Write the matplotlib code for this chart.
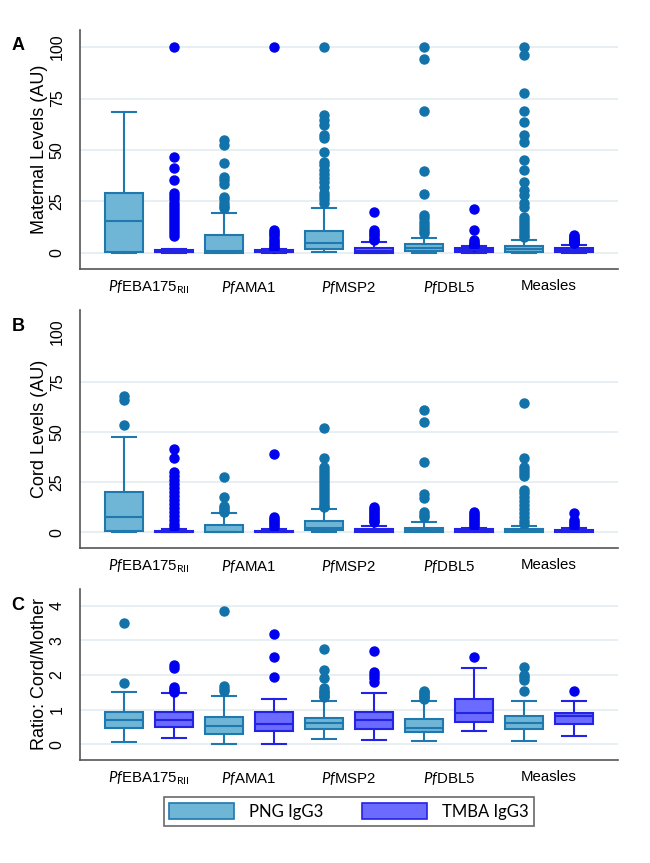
import matplotlib
matplotlib.use("Agg")
import matplotlib.pyplot as plt
from matplotlib.patches import Patch

plt.rcParams['font.family'] = ['Liberation Sans', 'DejaVu Sans']
plt.rcParams['mathtext.fontset'] = 'custom'
plt.rcParams['mathtext.rm'] = 'Lato'
plt.rcParams['mathtext.it'] = 'Lato:italic'
plt.rcParams['mathtext.bf'] = 'Lato:bold'

# ---------------- data ----------------
antigens = [r'$\mathit{Pf}$EBA175$_{\mathrm{RII}}$', r'$\mathit{Pf}$AMA1',
            r'$\mathit{Pf}$MSP2', r'$\mathit{Pf}$DBL5', 'Measles']
series_names = ['PNG IgG3', 'TMBA IgG3']
panel_letters = ['A', 'B', 'C']
panel_ylabels = ['Maternal Levels (AU)', 'Cord Levels (AU)', 'Ratio: Cord/Mother']
panel_yticks = [[0, 25, 50, 75, 100], [0, 25, 50, 75, 100], [0, 1, 2, 3, 4]]

# box stats: [whisker low, Q1, median, Q3, whisker high]
maternal_png_stats = [[0, 0.3, 15.4, 29, 68.6], [0, 0.2, 1.1, 8.7, 19.6],
                      [0.3, 1.8, 5.0, 10.7, 22], [0.2, 1.0, 2.3, 4.2, 7.4],
                      [0.2, 0.7, 1.9, 3.4, 6.3]]
maternal_png_fliers = [[],
                       [55, 52.3, 43.5, 37, 35.5, 33.5, 27.3, 26, 24.5, 23, 22],
                       [100, 67, 64.6, 62, 57.3, 55.7, 49.2, 44.3, 42.5, 40.5, 38.5, 36.5,
                        34.5, 32.2, 29, 27.5, 26, 24.3],
                       [100, 94, 69, 40, 28.6, 18.4, 16.8, 15.2, 13.6, 12, 10.5, 9.5],
                       [99.8, 96.1, 77.8, 69.1, 63.8, 57.3, 54, 45.1, 40.3, 34.3, 30.6, 28.2,
                        24.1, 22.5, 17.6, 16, 14.5, 13, 11.5, 10, 8.5, 7.9]]
maternal_tmba_stats = [[0.1, 0.3, 0.7, 1.2, 1.9], [0.1, 0.3, 0.7, 1.2, 2.1],
                       [0.1, 0.2, 1.0, 2.6, 5.3], [0.2, 0.6, 1.3, 2.3, 3.5],
                       [0.2, 0.6, 1.6, 2.6, 3.9]]
maternal_tmba_fliers = [[100, 46.7, 41.1, 35.4, 29.3, 27.5, 26, 24.5, 23, 21.5, 20, 18.5, 17,
                         15.5, 14, 12.5, 11, 9.5, 8],
                        [100, 11.2, 10, 9, 8, 7, 6, 5, 4, 3, 2.4],
                        [19.8, 11.2, 10, 9, 8, 7, 6.3],
                        [21.5, 11.2, 6.3, 5.5, 4.5, 4, 3.5],
                        [8.7, 8, 7.5, 7, 6.5, 6, 5.5, 5, 4.7]]

cord_png_stats = [[0, 0.5, 7.5, 20.2, 47.3], [0, 0.1, 0.3, 3.9, 9.8],
                  [0.2, 1.0, 2.1, 5.4, 11.5], [0.1, 0.3, 1.3, 2.3, 5.0],
                  [0.1, 0.3, 1.0, 1.8, 3.4]]
cord_png_fliers = [[67.8, 65.7, 53.5],
                   [27.5, 17.6, 13.2, 12.2, 11.2, 10.3],
                   [51.9, 37.2, 32.7, 31, 29.5, 28, 26.5, 25, 23.5, 22, 20.5, 19, 17.5,
                    16, 14.5, 13, 12.4],
                   [61.1, 55.1, 34.8, 19.2, 17.2, 9.9, 8.7, 7.5],
                   [64.4, 37, 32.7, 31, 29.3, 27.8, 21.3, 19.5, 17.5, 15.5, 13.5, 11.5,
                    9.5, 7.5, 5.5, 4.2]]
cord_tmba_stats = [[0, 0.1, 0.4, 0.9, 1.5], [0, 0.1, 0.3, 0.8, 1.5],
                   [0, 0.1, 0.5, 1.5, 3.1], [0.1, 0.3, 0.8, 1.5, 2.1],
                   [0.1, 0.3, 0.8, 1.3, 2.3]]
cord_tmba_fliers = [[41.6, 37.2, 29.8, 28, 26, 24, 22, 20, 18, 16, 14, 12, 10, 8, 6, 4, 2.5],
                    [39.2, 7.5, 6.5, 5.5, 4.5, 3.5, 2.5],
                    [12.4, 11.5, 10.5, 9.5, 8.5, 7.5, 6.5, 5.5, 5.0],
                    [9.9, 9, 8, 7, 6, 5, 4, 3],
                    [9.6, 5.9, 5, 4, 3]]

ratio_png_stats = [[0.05, 0.48, 0.69, 0.92, 1.52], [0, 0.29, 0.52, 0.79, 1.40],
                   [0.14, 0.43, 0.60, 0.77, 1.26], [0.09, 0.34, 0.48, 0.72, 1.26],
                   [0.09, 0.43, 0.60, 0.81, 1.26]]
ratio_png_fliers = [[3.52, 1.78],
                    [3.86, 1.67, 1.6, 1.55],
                    [2.75, 2.14, 1.9, 1.62, 1.55, 1.5, 1.45, 1.4, 1.36],
                    [1.55, 1.5, 1.45, 1.4, 1.35, 1.3],
                    [2.22, 2.0, 1.95, 1.87, 1.54]]
ratio_tmba_stats = [[0.17, 0.50, 0.69, 0.92, 1.49], [0, 0.38, 0.58, 0.94, 1.32],
                    [0.12, 0.45, 0.69, 0.92, 1.49], [0.39, 0.63, 0.89, 1.32, 2.19],
                    [0.24, 0.58, 0.81, 0.89, 1.25]]
ratio_tmba_fliers = [[2.29, 2.19, 1.65, 1.6, 1.55, 1.52],
                     [3.18, 2.51, 1.93],
                     [2.69, 2.08, 2.0, 1.9, 1.8],
                     [2.51],
                     [1.55]]

# ---------------- styling ----------------
png_face, png_edge, png_flier = '#6fb6d6', '#1f78ae', '#1272aa'
tmba_face, tmba_edge, tmba_flier = '#6b6bff', '#2323e6', '#0000ee'
grid_color = '#e3ecf1'
spine_color = '#555555'

W, H = 650, 863
fig = plt.figure(figsize=(W / 100, H / 100), dpi=100)
axes_px = [(80, 30, 618, 269), (80, 310, 618, 548), (80, 589, 618, 760)]
ylims = [(-7.8, 108.3), (-7.8, 110.7), (-0.46, 4.49)]

panels = [
    (maternal_png_stats, maternal_png_fliers, maternal_tmba_stats, maternal_tmba_fliers),
    (cord_png_stats, cord_png_fliers, cord_tmba_stats, cord_tmba_fliers),
    (ratio_png_stats, ratio_png_fliers, ratio_tmba_stats, ratio_tmba_fliers),
]


def make_stats(stats, fliers):
    out = []
    for s, f in zip(stats, fliers):
        out.append(dict(whislo=s[0], q1=s[1], med=s[2], q3=s[3], whishi=s[4], fliers=f))
    return out


for i, (ps, pf, ts, tf) in enumerate(panels):
    l, t, r, b = axes_px[i]
    ax = fig.add_axes([l / W, (H - b) / H, (r - l) / W, (b - t) / H])
    ax.set_ylim(*ylims[i])
    ax.set_xlim(-0.88, 9.88)
    ax.set_yticks(panel_yticks[i])
    ax.yaxis.grid(True, color=grid_color, linewidth=1.2)
    ax.set_axisbelow(True)
    if i == 1:
        ax.get_ygridlines()[-1].set_visible(False)
    n = len(antigens)
    for stats, fl, pos_off, face, edge, fc in [
            (ps, pf, 0, png_face, png_edge, png_flier),
            (ts, tf, 1, tmba_face, tmba_edge, tmba_flier)]:
        ax.bxp(make_stats(stats, fl), positions=[2 * k + pos_off for k in range(n)],
               widths=0.76, capwidths=0.48, patch_artist=True, showfliers=True,
               boxprops=dict(facecolor=face, edgecolor=edge, linewidth=1.5),
               medianprops=dict(color=edge, linewidth=1.5),
               whiskerprops=dict(color=edge, linewidth=1.5),
               capprops=dict(color=edge, linewidth=1.5),
               flierprops=dict(marker='o', markersize=6.5, markerfacecolor=fc,
                               markeredgecolor=fc, linestyle='none'),
               manage_ticks=False)
    ax.set_xticks([2 * k + 0.5 for k in range(n)])
    ax.set_xticklabels(antigens, fontsize=10.8)
    ax.tick_params(axis='x', length=0, pad=7)
    ax.tick_params(axis='y', length=0, pad=11, labelsize=11.5)
    for lab in ax.get_yticklabels():
        lab.set_rotation(90)
        lab.set_va('center')
    ax.set_ylabel(panel_ylabels[i], fontsize=13, labelpad=1)
    for sp in ['top', 'right']:
        ax.spines[sp].set_visible(False)
    for sp in ['left', 'bottom']:
        ax.spines[sp].set_color(spine_color)
        ax.spines[sp].set_linewidth(1.2)
    fig.text(18 / W, 1 - (t + 16) / H, panel_letters[i], fontsize=13,
             fontweight='bold', ha='center', va='center')

handles = [Patch(facecolor=png_face, edgecolor=png_edge, linewidth=1.2),
           Patch(facecolor=tmba_face, edgecolor=tmba_edge, linewidth=1.2)]
leg = fig.legend(handles, series_names, loc='center', ncol=2,
                 bbox_to_anchor=(349 / W, 1 - 811.5 / H), frameon=True, fancybox=False,
                 prop={'family': 'Lato', 'size': 12}, handlelength=3.9, handleheight=1.1,
                 handletextpad=0.9, columnspacing=2.3, borderpad=0.35)
leg.get_frame().set_edgecolor('#444444')
leg.get_frame().set_linewidth(1.2)

fig.savefig('out.png', dpi=100)
